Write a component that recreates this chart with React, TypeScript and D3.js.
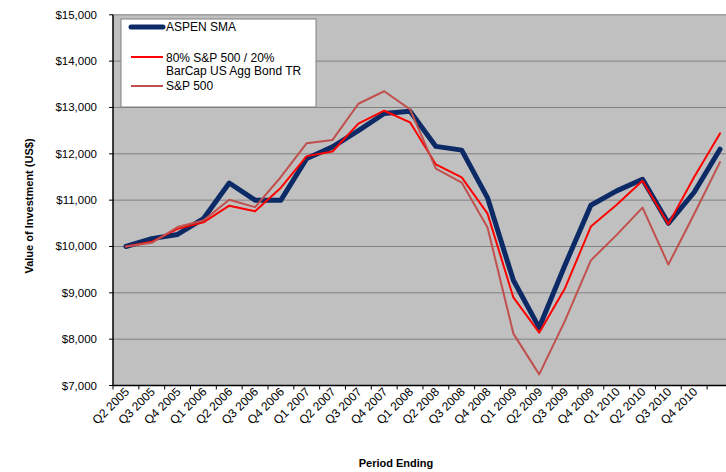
import React from "react";
import * as d3 from "d3";

const categories = [
  "Q2 2005", "Q3 2005", "Q4 2005", "Q1 2006", "Q2 2006", "Q3 2006", "Q4 2006",
  "Q1 2007", "Q2 2007", "Q3 2007", "Q4 2007", "Q1 2008", "Q2 2008", "Q3 2008",
  "Q4 2008", "Q1 2009", "Q2 2009", "Q3 2009", "Q4 2009", "Q1 2010", "Q2 2010",
  "Q3 2010", "Q4 2010", "",
];

const aspen = [
  10000, 10170, 10260, 10600, 11370, 11000, 11000, 11900, 12150, 12500, 12870, 12920,
  12160, 12080, 11050, 9270, 8250, 9600, 10890, 11200, 11450, 10500, 11170, 12100,
];

const blend = [
  10000, 10100, 10380, 10520, 10880, 10760, 11270, 11950, 12050, 12650, 12930, 12680,
  11770, 11490, 10710, 8900, 8140, 9100, 10430, 10900, 11420, 10480, 11500, 12440,
];

const sp500 = [
  10000, 10080, 10420, 10560, 11010, 10850, 11500, 12230, 12300, 13080, 13350, 12960,
  11680, 11380, 10410, 8120, 7240, 8400, 9700, 10250, 10840, 9610, 10700, 11820,
];

const yTicks = [7000, 8000, 9000, 10000, 11000, 12000, 13000, 14000, 15000];

const seriesDefs = [
  { name: "ASPEN SMA", values: aspen, color: "#0B2A66", width: 5 },
  { name: "80% S&P 500 / 20%|BarCap US Agg Bond TR", values: blend, color: "#FF0000", width: 2 },
  { name: "S&P 500", values: sp500, color: "#C0504D", width: 2 },
];

export default function App() {
  const W = 726;
  const H = 472;
  const left = 113;
  const top = 14.8;
  const bottom = 385.5;
  const band = 25.83;
  const x = d3
    .scaleBand<number>()
    .domain(categories.map((_, i) => i))
    .range([left, left + band * categories.length])
    .padding(0);
  const y = d3.scaleLinear().domain([7000, 15000]).range([bottom, top]);
  const cx = (i: number) => (x(i) as number) + x.bandwidth() / 2;
  const line = (vals: number[]) =>
    d3
      .line<number>()
      .x((_, i) => cx(i))
      .y((v) => y(v))(vals) as string;
  const fmt = (v: number) => "$" + d3.format(",")(v);
  const font = "Arial, 'Liberation Sans', sans-serif";
  const plotRight = left + band * categories.length;

  const drawOrder = [0, 1, 2];

  return (
    <svg width={W} height={H} style={{ position: "absolute", left: 0, top: 0, background: "#fff" }} fontFamily={font}>
      <rect x={left} y={top} width={plotRight - left} height={bottom - top} fill="#C0C0C0" />
      {yTicks.map((t) => (
        <line key={t} x1={left} x2={plotRight} y1={y(t)} y2={y(t)} stroke="#808080" strokeWidth={1} />
      ))}
      {yTicks.map((t) => (
        <g key={"yt" + t}>
          <line x1={left - 4} x2={left} y1={y(t)} y2={y(t)} stroke="#000" strokeWidth={1} />
          <text x={97} y={y(t) + 4} fontSize={11.5} textAnchor="end" fill="#000">
            {fmt(t)}
          </text>
        </g>
      ))}
      {d3.range(categories.length + 1).map((i) => (
        <line key={"xt" + i} x1={left + i * band} x2={left + i * band} y1={bottom} y2={bottom + 4} stroke="#000" strokeWidth={1} />
      ))}
      {categories.map((c, i) =>
        c ? (
          <text
            key={"xl" + i}
            transform={`translate(${cx(i) + 4},${bottom + 7}) rotate(-45)`}
            fontSize={12}
            textAnchor="end"
            fill="#000"
          >
            {c}
          </text>
        ) : null
      )}
      <line x1={left} x2={left} y1={top} y2={bottom} stroke="#000" strokeWidth={1.5} />
      <line x1={left} x2={plotRight} y1={bottom} y2={bottom} stroke="#000" strokeWidth={1.5} />
      {drawOrder.map((k) => {
        const s = seriesDefs[k];
        return (
          <path
            key={s.name}
            d={line(s.values)}
            fill="none"
            stroke={s.color}
            strokeWidth={s.width}
            strokeLinejoin="round"
            strokeLinecap="round"
          />
        );
      })}
      <g>
        <rect x={121} y={19} width={195} height={88} fill="#fff" stroke="#808080" strokeWidth={1} />
        <line x1={131} x2={163} y1={27} y2={27} stroke={seriesDefs[0].color} strokeWidth={5} strokeLinecap="round" />
        <text x={166} y={31} fontSize={12} fill="#000">ASPEN SMA</text>
        <line x1={131} x2={163} y1={57} y2={57} stroke={seriesDefs[1].color} strokeWidth={2} />
        <text x={166} y={62} fontSize={12} fill="#000">80% S&amp;P 500 / 20%</text>
        <text x={166} y={75} fontSize={12} fill="#000">BarCap US Agg Bond TR</text>
        <line x1={131} x2={163} y1={86} y2={86} stroke={seriesDefs[2].color} strokeWidth={2} />
        <text x={166} y={90} fontSize={12} fill="#000">S&amp;P 500</text>
      </g>
      <text
        transform={`translate(33,206) rotate(-90)`}
        fontSize={11}
        fontWeight="bold"
        textAnchor="middle"
        fill="#000"
      >
        Value of Investment (US$)
      </text>
      <text x={396} y={467} fontSize={11} fontWeight="bold" textAnchor="middle" fill="#000">
        Period Ending
      </text>
    </svg>
  );
}
